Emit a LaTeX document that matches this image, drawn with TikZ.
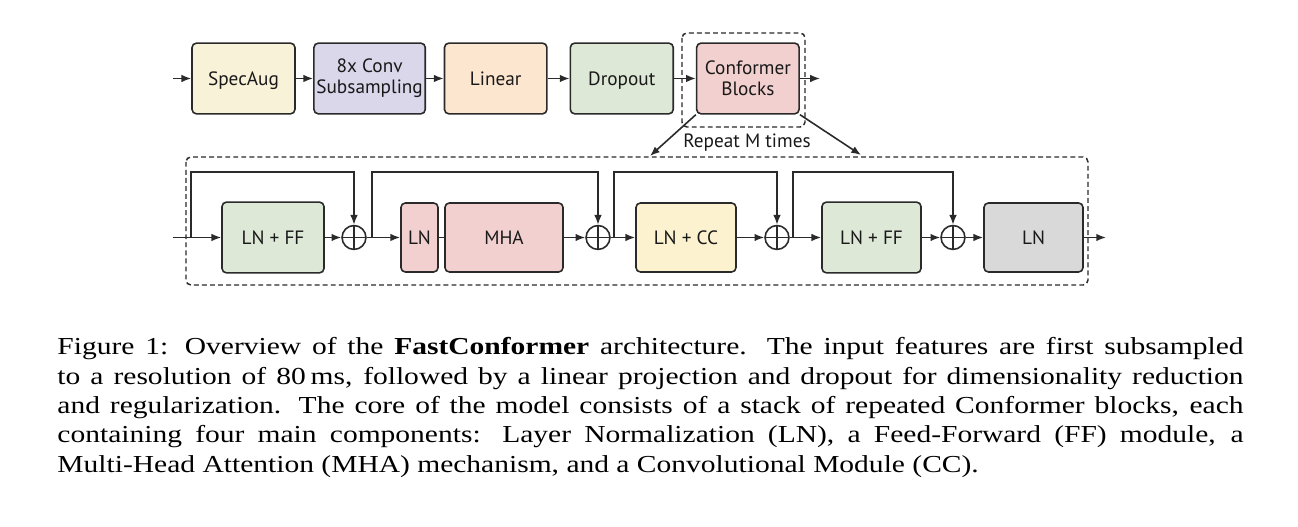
\documentclass[tikz,border=0pt]{standalone}
\usepackage{graphicx}
\usepackage{fontspec}
\setmainfont{Liberation Serif}
\newfontfamily\diafont{PT Sans}
\usetikzlibrary{positioning, arrows.meta, calc}

\definecolor{specfill}{HTML}{F8F3D8}
\definecolor{convfill}{HTML}{DAD7EB}
\definecolor{linfill}{HTML}{FDE6D0}
\definecolor{greenfill}{HTML}{DEE8D7}
\definecolor{pinkfill}{HTML}{F2D0CF}
\definecolor{ccfill}{HTML}{FCF2CF}
\definecolor{grayfill}{HTML}{D9D9D9}
\definecolor{edgecol}{HTML}{2A2A2A}

\tikzset{
  block/.style={draw=edgecol, line width=0.65pt, rounded corners=1.8pt, inner sep=1pt,
    minimum height=29pt, align=center, text=black!90,
    font=\diafont\fontsize{7.9}{8.7}\selectfont},
  oneline/.style={text height=1.55ex, text depth=0.3ex},
  plus/.style={circle, draw=edgecol, line width=0.65pt, minimum size=9.8pt, inner sep=0pt,
    path picture={\draw[edgecol, line width=0.55pt]
      (path picture bounding box.north) -- (path picture bounding box.south)
      (path picture bounding box.west) -- (path picture bounding box.east);}},
  dashbox/.style={draw=edgecol, line width=0.6pt, dash pattern=on 2pt off 1.3pt, rounded corners=2pt},
  conn/.style={->, line width=0.65pt, draw=edgecol},
  plain/.style={line width=0.65pt, draw=edgecol},
}

\begin{document}
\begin{tikzpicture}[x=0.41pt, y=-0.41pt, node distance=51.7pt, on grid,
    >={Latex[length=4pt,width=3.1pt]}]
  \useasboundingbox (0,0) rectangle (1298,527);

  % front end
  \node[block, oneline, fill=specfill, minimum width=42.2pt] (spec) at (243.5,78.5) {SpecAug};
  \node[block, fill=convfill, minimum width=43.5pt] (conv) [right=of spec] {8x Conv\\Subsampling};
  \node[block, oneline, fill=linfill, minimum width=42pt] (lin) [right=of conv] {Linear};
  \node[block, oneline, fill=greenfill, minimum width=42.2pt] (drop) [right=of lin] {Dropout};
  \node[block, fill=pinkfill, minimum width=42pt] (conf) [right=of drop] {Conformer\\Blocks};
  \coordinate (in) at (173,78.5);
  \coordinate (out) at (820,78.5);
  \draw[conn] (in) -- (spec);
  \draw[conn] (spec) -- (conv);
  \draw[conn] (conv) -- (lin);
  \draw[conn] (lin) -- (drop);
  \draw[conn] (drop) -- (conf);
  \draw[conn] (conf) -- (out);
  \draw[dashbox] (682,33) rectangle (805,127);
  \node[font=\diafont\fontsize{7.9}{8.7}\selectfont, text=black!90] (rep) at (747,143) {Repeat M times};
  \coordinate (repl) at (650,156);
  \coordinate (repr) at (861,155);
  \draw[conn] (conf.south west) -- (repl);
  \draw[conn] (conf.south east) -- (repr);

  % one conformer block
  \draw[dashbox] (186,157) rectangle (1088,285);
  \node[block, oneline, fill=greenfill, minimum width=41.8pt] (ff1) at (273,237.5) {LN + FF};
  \node[plus] (p1) at (354,237.5) {};
  \node[block, oneline, fill=pinkfill, minimum width=15.2pt, minimum height=28.3pt] (ln1) at (419.5,237.5) {LN};
  \node[block, oneline, fill=pinkfill, minimum width=48.4pt, minimum height=28.3pt] (mha) at (504,237.5) {MHA};
  \node[plus] (p2) at (598,237.5) {};
  \node[block, oneline, fill=ccfill, minimum width=41pt, minimum height=28.3pt] (cc) at (686,237.5) {LN + CC};
  \node[plus] (p3) at (777,237.5) {};
  \node[block, oneline, fill=greenfill, minimum width=40.6pt] (ff2) at (871.5,237.5) {LN + FF};
  \node[plus] (p4) at (953,237.5) {};
  \node[block, oneline, fill=grayfill, minimum width=40.6pt, minimum height=28.3pt] (lnf) at (1033.5,237.5) {LN};
  \coordinate (in2) at (173,237.5);
  \coordinate (out2) at (1106,237.5);
  \coordinate (b1) at (191,237.5);
  \coordinate (b2) at (372,237.5);
  \coordinate (b3) at (614,237.5);
  \coordinate (b4) at (793,237.5);
  \draw[conn] (in2) -- (ff1);
  \draw[conn] (ff1) -- (p1);
  \draw[conn] (p1) -- (ln1);
  \draw[plain] (ln1) -- (mha);
  \draw[conn] (mha) -- (p2);
  \draw[conn] (p2) -- (cc);
  \draw[conn] (cc) -- (p3);
  \draw[conn] (p3) -- (ff2);
  \draw[conn] (ff2) -- (p4);
  \draw[conn] (p4) -- (lnf);
  \draw[conn] (lnf) -- (out2);
  \foreach \i in {1,...,4}
    \draw[conn] (b\i) -- ++(0,-65.5) -| (p\i);

  % caption
  \node[anchor=base west, inner sep=0pt] (cap) at (57,355)
    {\scalebox{1.21}[1]{\parbox[t]{401.9pt}{\fontsize{10}{12}\selectfont
     Figure 1: Overview of the \textbf{FastConformer} architecture. The input features are first subsampled\linebreak
     to a resolution of 80\,ms, followed by a linear projection and dropout for dimensionality reduction\linebreak
     and regularization. The core of the model consists of a stack of repeated Conformer blocks, each\linebreak
     containing four main components: Layer Normalization (LN), a Feed-Forward (FF) module, a\linebreak
     Multi-Head Attention (MHA) mechanism, and a Convolutional Module (CC).}}};
\end{tikzpicture}
\end{document}
